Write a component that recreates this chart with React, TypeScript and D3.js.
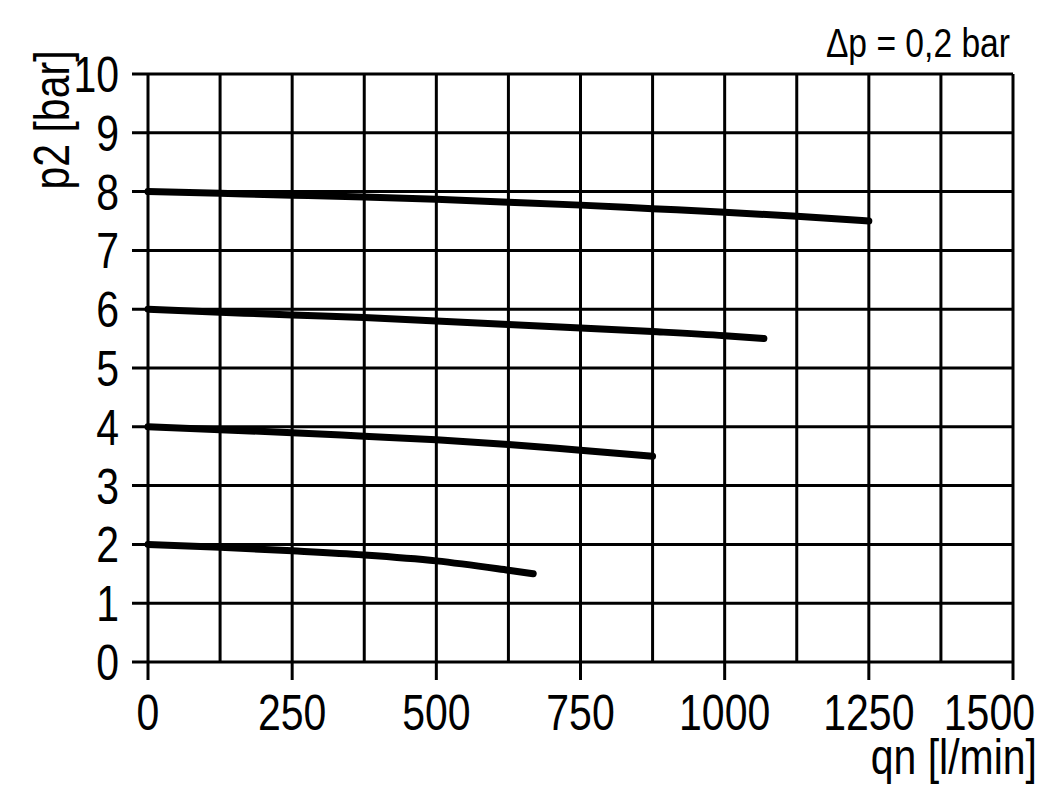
import * as d3 from 'd3';
import React, { useEffect, useRef } from 'react';

// flow (l/min) ticks and p2 (bar) ticks
const xTickValues = [0, 250, 500, 750, 1000, 1250, 1500];
const xGridValues = [0, 125, 250, 375, 500, 625, 750, 875, 1000, 1125, 1250, 1375, 1500];
const yTickValues = [0, 1, 2, 3, 4, 5, 6, 7, 8, 9, 10];

// curves: p2 at inlet setting 8 / 6 / 4 / 2 bar
const q8 = [0, 125, 250, 375, 500, 625, 750, 875, 1000, 1125, 1250];
const p8 = [8.0, 7.97, 7.94, 7.91, 7.87, 7.82, 7.77, 7.71, 7.65, 7.58, 7.5];
const q6 = [0, 125, 250, 375, 500, 625, 750, 875, 1000, 1068];
const p6 = [6.0, 5.95, 5.9, 5.86, 5.8, 5.74, 5.68, 5.62, 5.55, 5.5];
const q4 = [0, 125, 250, 375, 500, 625, 750, 875];
const p4 = [4.0, 3.95, 3.9, 3.84, 3.78, 3.7, 3.6, 3.5];
const q2 = [0, 125, 250, 375, 500, 625, 668];
const p2 = [2.0, 1.95, 1.89, 1.82, 1.72, 1.56, 1.5];

const App = () => {
  const ref = useRef<SVGSVGElement>(null);
  const width = 1051;
  const height = 803;
  const margin = { top: 74, right: 38, bottom: 141, left: 148 };

  useEffect(() => {
    const svg = d3.select(ref.current);
    svg.selectAll('*').remove();

    const x = d3.scaleLinear().domain([0, 1500]).range([margin.left, width - margin.right]);
    const y = d3.scaleLinear().domain([0, 10]).range([height - margin.bottom, margin.top]);
    const font = '"Liberation Sans", Arial, sans-serif';
    const narrow = 0.82; // squeeze to look like Arial Narrow

    // vertical grid
    svg.append('g').selectAll('line').data(xGridValues).enter().append('line')
      .attr('x1', d => x(d)).attr('x2', d => x(d))
      .attr('y1', y(10)).attr('y2', y(0))
      .attr('stroke', '#000').attr('stroke-width', 3);

    // horizontal grid, sticking out left as ticks
    svg.append('g').selectAll('line').data(yTickValues).enter().append('line')
      .attr('x1', x(0) - 16).attr('x2', x(1500))
      .attr('y1', d => y(d)).attr('y2', d => y(d))
      .attr('stroke', '#000').attr('stroke-width', 3);

    // bottom ticks
    svg.append('g').selectAll('line').data(xTickValues).enter().append('line')
      .attr('x1', d => x(d)).attr('x2', d => x(d))
      .attr('y1', y(0)).attr('y2', y(0) + 18)
      .attr('stroke', '#000').attr('stroke-width', 3);

    // tick labels
    svg.append('g').selectAll('text').data(xTickValues).enter().append('text')
      .attr('transform', d => d === 1500
        ? `translate(${x(d) + 22},730) scale(${narrow},1)`
        : `translate(${x(d)},730) scale(${narrow},1)`)
      .attr('text-anchor', d => (d === 1500 ? 'end' : 'middle'))
      .attr('font-family', font).attr('font-size', 50)
      .text(d => String(d));

    svg.append('g').selectAll('text').data(yTickValues).enter().append('text')
      .attr('transform', d => `translate(119,${y(d) + 18}) scale(${narrow},1)`)
      .attr('text-anchor', 'end')
      .attr('font-family', font).attr('font-size', 50)
      .text(d => String(d));

    // curves
    const line = d3.line<[number, number]>()
      .x(d => x(d[0])).y(d => y(d[1]))
      .curve(d3.curveMonotoneX);
    const curves: [number[], number[]][] = [[q8, p8], [q6, p6], [q4, p4], [q2, p2]];
    curves.forEach(([q, p]) => {
      svg.append('path')
        .datum(q.map((v, i) => [v, p[i]] as [number, number]))
        .attr('d', line)
        .attr('fill', 'none').attr('stroke', '#000')
        .attr('stroke-width', 7).attr('stroke-linecap', 'round');
    });

    // axis titles
    svg.append('text')
      .attr('transform', `translate(69,120) rotate(-90) scale(${narrow},1)`)
      .attr('text-anchor', 'middle')
      .attr('font-family', font).attr('font-size', 50)
      .text('p2 [bar]');

    svg.append('text')
      .attr('transform', `translate(1037,774) scale(${narrow},1)`)
      .attr('text-anchor', 'end')
      .attr('font-family', font).attr('font-size', 50)
      .text('qn [l/min]');

    svg.append('text')
      .attr('transform', `translate(1010,57) scale(${narrow},1)`)
      .attr('text-anchor', 'end')
      .attr('font-family', font).attr('font-size', 41)
      .text('Δp = 0,2 bar');
  }, []);

  return (
    <svg ref={ref} width={width} height={height}
      style={{ position: 'absolute', left: 0, top: 0, background: '#fff' }} />
  );
};

export default App;
